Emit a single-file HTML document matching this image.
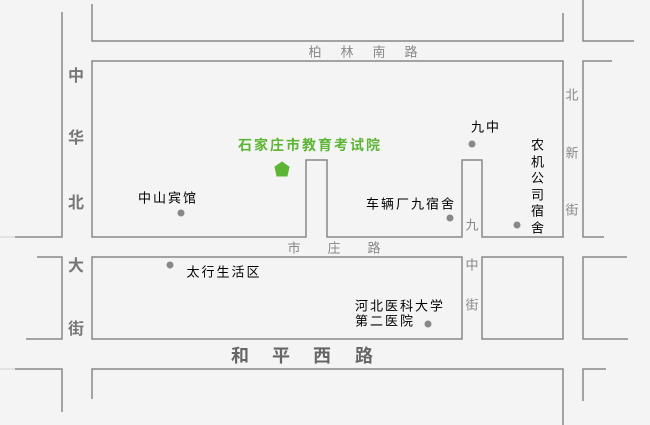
<!DOCTYPE html>
<html><head><meta charset="utf-8"><style>
html,body{margin:0;padding:0;background:#f4f4f4;}
#c{position:relative;width:650px;height:425px;overflow:hidden;background:#f4f4f4;font-family:"Liberation Sans","Noto Sans CJK SC","WenQuanYi Zen Hei",sans-serif;}
.t{position:absolute;white-space:nowrap;line-height:1;transform:translate(-50%,-50%);}
.g{color:#888;font-size:13px;}
.b{color:#777;font-size:16px;font-weight:bold;}
.k{color:#000;font-size:13px;letter-spacing:2px;}
</style></head><body><div id="c">
<svg width="650" height="425" style="position:absolute;left:0;top:0" fill="none" stroke="#888" stroke-width="1.5">
<polyline points="92,4 92,41 563,41 563,13"/>
<polyline points="583,0 583,41 634,41"/>
<polyline points="62,12 62,237 15,237"/>
<line x1="0" y1="237" x2="15" y2="237" stroke="#ddd"/>
<polygon points="92,61 563,61 563,237 482,237 482,160 462,160 462,237 327,237 327,160 306,160 306,237 92,237"/>
<polyline points="612,61 583,61 583,237 604,237"/>
<polyline points="37,257 62,257 62,339 26,339"/>
<rect x="92" y="257" width="370" height="82"/>
<rect x="482" y="257" width="81" height="82"/>
<polyline points="627,257 583,257 583,339 628,339"/>
<polyline points="15,369 62,369 62,412"/>
<line x1="0" y1="369" x2="15" y2="369" stroke="#ddd"/>
<polyline points="92,399 92,369 563,369 563,425"/>
<polyline points="583,401 583,369 606,369"/>
<g fill="#888" stroke="none">
<circle cx="181" cy="213" r="3.5"/><circle cx="472" cy="144" r="3.5"/>
<circle cx="450" cy="218" r="3.5"/><circle cx="517" cy="225" r="3.5"/>
<circle cx="170" cy="265" r="3.5"/><circle cx="428" cy="324" r="3.5"/>
</g>
<polygon points="282,162 289,167 287,176 277,176 275,167" fill="#5db535" stroke="#5db535" stroke-width="1"/>
</svg>
<div class="t g" style="left:315px;top:52px">柏</div><div class="t g" style="left:347px;top:52px">林</div>
<div class="t g" style="left:379px;top:52px">南</div><div class="t g" style="left:411px;top:52px">路</div>
<div class="t g" style="left:294px;top:248px">市</div><div class="t g" style="left:334px;top:248px">庄</div><div class="t g" style="left:374px;top:248px">路</div>
<div class="t g" style="left:572px;top:95px">北</div><div class="t g" style="left:572px;top:153px">新</div><div class="t g" style="left:572px;top:210px">街</div>
<div class="t g" style="left:472px;top:225px">九</div><div class="t g" style="left:472px;top:265px">中</div><div class="t g" style="left:472px;top:305px">街</div>
<div class="t b" style="left:76px;top:77px">中</div><div class="t b" style="left:76px;top:139px">华</div>
<div class="t b" style="left:76px;top:204px">北</div><div class="t b" style="left:76px;top:267px">大</div><div class="t b" style="left:76px;top:330px">街</div>
<div class="t b" style="left:240px;top:356px;font-size:18px;color:#666">和</div><div class="t b" style="left:281px;top:356px;font-size:18px;color:#666">平</div>
<div class="t b" style="left:322px;top:356px;font-size:18px;color:#666">西</div><div class="t b" style="left:364px;top:356px;font-size:18px;color:#666">路</div>
<div class="t" style="left:310px;top:145px;color:#5db535;font-size:14px;font-weight:bold;letter-spacing:2px">石家庄市教育考试院</div>
<div class="t k" style="left:168px;top:198px">中山宾馆</div>
<div class="t k" style="left:486px;top:127px">九中</div>
<div class="t k" style="left:411px;top:204px">车辆厂九宿舍</div>
<div class="t k" style="left:224px;top:272px">太行生活区</div>
<div class="t k" style="left:400px;top:306px">河北医科大学</div>
<div class="t k" style="left:385px;top:321px">第二医院</div>
<div class="t k" style="left:538px;top:187px;white-space:normal;width:14px;line-height:16.5px;letter-spacing:0">农机公司宿舍</div>
</div></body></html>
